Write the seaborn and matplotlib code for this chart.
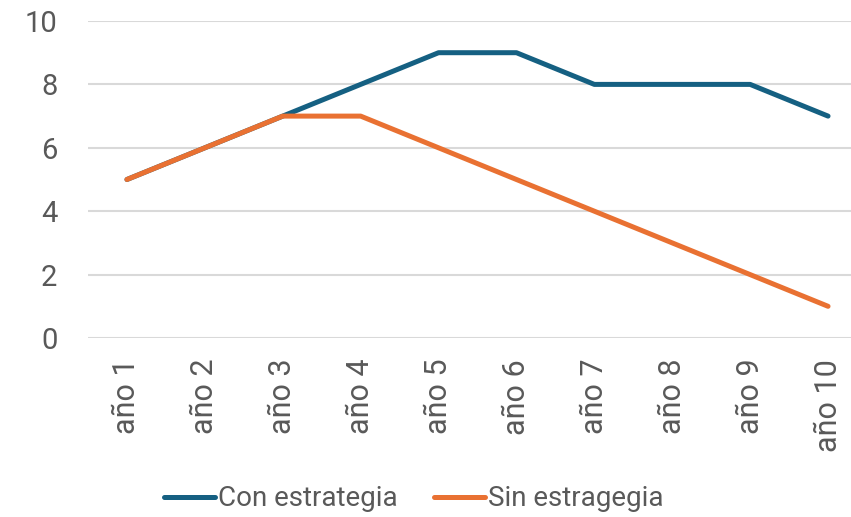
import matplotlib
matplotlib.use("Agg")
import matplotlib.pyplot as plt
import seaborn as sns
import pandas as pd
from matplotlib.lines import Line2D

categories = ["año 1", "año 2", "año 3", "año 4", "año 5", "año 6", "año 7", "año 8", "año 9", "año 10"]
con_estrategia = [5, 6, 7, 8, 9, 9, 8, 8, 8, 7]
sin_estrategia = [5, 6, 7, 7, 6, 5, 4, 3, 2, 1]
series_names = ["Con estrategia", "Sin estragegia"]
colors = ["#156082", "#E97132"]

df = pd.DataFrame({
    "val": con_estrategia + sin_estrategia,
    "serie": [series_names[0]] * len(categories) + [series_names[1]] * len(categories),
})
df["x"] = list(range(len(categories))) * 2

sns.set_theme(style="white")
plt.rcParams["font.family"] = ["Roboto", "DejaVu Sans"]

fig = plt.figure(figsize=(8.51, 5.17), dpi=100)
ax = fig.add_axes([88/851, 1 - 338/517, (867-88)/851, (338-21)/517])

sns.lineplot(data=df, x="x", y="val", hue="serie", palette=colors, linewidth=3.6,
             ax=ax, legend=False, solid_capstyle="round", solid_joinstyle="round")

ax.set_xlim(-0.5, len(categories) - 0.5)
ax.set_ylim(0, 10)
ax.set_yticks([0, 2, 4, 6, 8, 10])
ax.set_xticks(range(len(categories)))
ax.set_xticklabels(categories, rotation=90, va="top", ha="center")
ax.tick_params(axis="both", length=0, labelcolor="#595959")
ax.tick_params(axis="x", pad=15, labelsize=22)
ax.tick_params(axis="y", pad=22, labelsize=21)
ax.grid(axis="y", color="#d9d9d9", linewidth=1.5)
ax.set_axisbelow(True)
for s in ax.spines.values():
    s.set_visible(False)
ax.set_xlabel("")
ax.set_ylabel("")

handles = [Line2D([0], [0], color=c, lw=3.6, solid_capstyle="round") for c in colors]
fig.legend(handles, series_names, loc="center", bbox_to_anchor=(413.5/851, 1 - 499/517),
           ncol=2, frameon=False, fontsize=20, labelcolor="#595959",
           handlelength=1.85, handletextpad=0.1, columnspacing=1.3)

fig.savefig("out.png", dpi=100)
